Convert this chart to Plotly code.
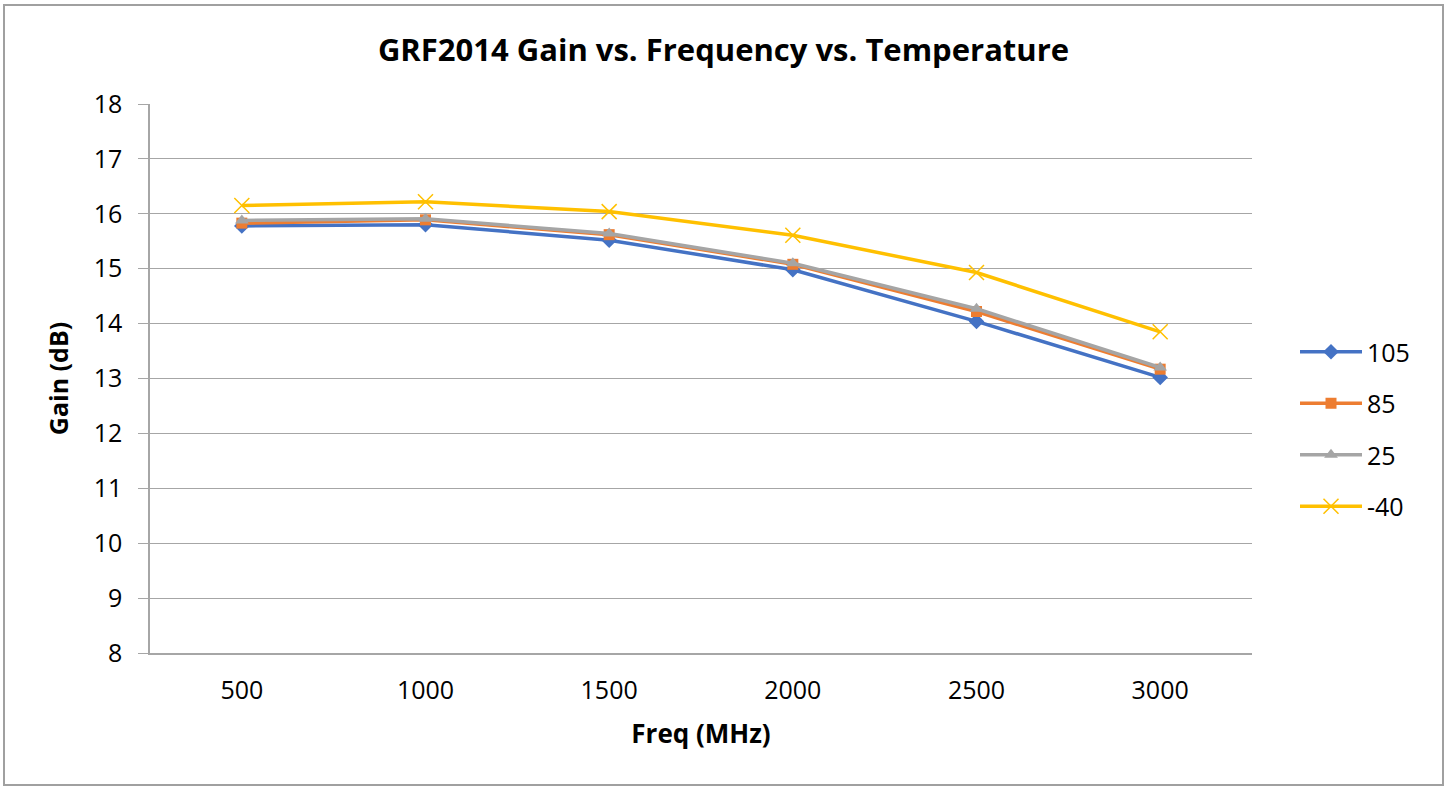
import plotly.graph_objects as go

freq = ["500", "1000", "1500", "2000", "2500", "3000"]
series_names = ["105", "85", "25", "-40"]
gain_105 = [15.78, 15.80, 15.52, 14.98, 14.04, 13.02]
gain_85 = [15.83, 15.89, 15.62, 15.08, 14.22, 13.17]
gain_25 = [15.88, 15.91, 15.64, 15.10, 14.27, 13.20]
gain_m40 = [16.15, 16.22, 16.04, 15.61, 14.93, 13.85]

colors = ["#4472C4", "#ED7D31", "#A5A5A5", "#FFC000"]
symbols = ["diamond", "square", "triangle-up", "x-thin"]
sizes = [12, 11, 12, 15]
data = [gain_105, gain_85, gain_25, gain_m40]

W, H = 1447, 787
L, R, T, B = 150, 195, 104, 134
pw = W - L - R
ph = H - T - B

fig = go.Figure()
for i, (name, vals) in enumerate(zip(series_names, data)):
    marker = dict(symbol=symbols[i], size=sizes[i], color=colors[i])
    if symbols[i] == "x-thin":
        marker["line"] = dict(color=colors[i], width=1.5)
    fig.add_trace(go.Scatter(
        x=freq, y=vals, name=name, mode="lines+markers",
        line=dict(color=colors[i], width=3.5),
        marker=marker, legendgroup=name,
    ))

font_family = "Open Sans, Noto Sans, sans-serif"
fig.update_layout(
    width=W, height=H,
    margin=dict(l=L, r=R, t=T, b=B),
    paper_bgcolor="white", plot_bgcolor="white",
    font=dict(family=font_family, color="#000000"),
    title=dict(text="<b>GRF2014 Gain vs. Frequency vs. Temperature</b>",
               x=0.5, xanchor="center", xref="container",
               y=1 - 50 / H, yanchor="middle",
               font=dict(size=31, color="#000000")),
    showlegend=True,
    legend=dict(x=(1295 - L) / pw, y=1 - (329 - T) / ph, xanchor="left", yanchor="top",
                font=dict(size=25, color="#000000"),
                itemwidth=62,
                tracegroupgap=16, bgcolor="rgba(0,0,0,0)"),
    xaxis=dict(type="category", range=[-0.5, 5.5],
               showgrid=False, showline=True, linecolor="#A6A6A6", linewidth=1.5,
               ticks="", tickfont=dict(size=25, color="#000000"),
               ticklabelstandoff=14,
               title=dict(text="<b>Freq (MHz)</b>", font=dict(size=26, color="#000000"), standoff=20),
               zeroline=False),
    yaxis=dict(range=[8, 18], dtick=1, tick0=8,
               showgrid=True, gridcolor="#A6A6A6", gridwidth=1,
               showline=True, linecolor="#A6A6A6", linewidth=1.5,
               ticks="outside", ticklen=10, tickcolor="#A6A6A6",
               tickfont=dict(size=25, color="#000000"),
               ticklabelstandoff=11,
               title=dict(text="<b>Gain (dB)</b>", font=dict(size=25, color="#000000"), standoff=18),
               zeroline=False),
)

fig.add_shape(type="rect", xref="paper", yref="paper",
              x0=(4 - L) / pw, x1=(1443 - L) / pw,
              y0=1 - (785 - T) / ph, y1=1 - (5 - T) / ph,
              line=dict(color="#A0A0A0", width=2), fillcolor="rgba(0,0,0,0)", layer="below")

fig.write_html("out.html", config={"displayModeBar": False},
               post_script="document.body.style.margin='0px';")
